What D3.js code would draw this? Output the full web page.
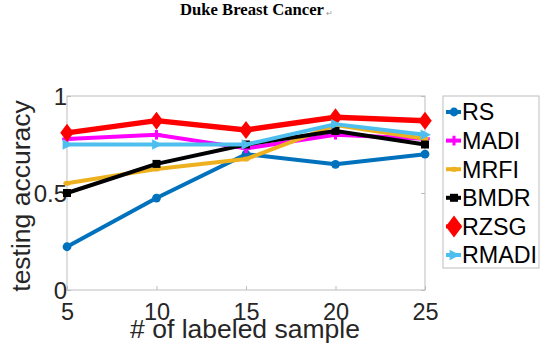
<!DOCTYPE html>
<html>
<head>
<meta charset="utf-8">
<script src="https://cdn.jsdelivr.net/npm/d3@7"></script>
<style>
  body { margin: 0; background: #fff; }
  svg { display: block; }
  text { font-family: "Liberation Sans", Arial, sans-serif; fill: #262626; }
</style>
</head>
<body>
<svg id="chart" width="545" height="353"></svg>
<script>
const samples = [5, 10, 15, 20, 25];
const yTicks = [0, 0.5, 1];

const seriesNames = ['RS', 'MADI', 'MRFI', 'BMDR', 'RZSG', 'RMADI'];
const rs    = [0.223, 0.474, 0.70, 0.648, 0.70];
const madi  = [0.778, 0.80, 0.73, 0.80, 0.78];
const mrfi  = [0.55, 0.624, 0.675, 0.85, 0.78];
const bmdr  = [0.50, 0.65, 0.75, 0.82, 0.75];
const rzsg  = [0.81, 0.873, 0.825, 0.89, 0.873];
const rmadi = [0.75, 0.75, 0.75, 0.855, 0.80];

const colors = ['#0072bd', '#ff00ff', '#edb120', '#000000', '#ff0000', '#4dbeee'];
const symbols = ['circle', 'plus', 'mrfi', 'square', 'diamond', 'triangle'];
const values = [rs, madi, mrfi, bmdr, rzsg, rmadi];

const svg = d3.select('#chart');
const mLeft = 67, mRight = 425, mTop = 96, mBottom = 290;

const x = d3.scaleLinear().domain([5, 25]).range([mLeft, mRight]);
const y = d3.scaleLinear().domain([0, 1]).range([mBottom, mTop]);

// title
svg.append('text')
  .attr('x', 180).attr('y', 15)
  .attr('textLength', 144).attr('lengthAdjust', 'spacingAndGlyphs')
  .style('font-family', '"Liberation Serif", serif')
  .style('font-weight', 'bold')
  .style('font-size', '17px')
  .style('fill', '#000')
  .text('Duke Breast Cancer');
svg.append('text')
  .attr('x', 326).attr('y', 16)
  .style('font-size', '8px')
  .style('fill', '#999')
  .text('\u21b5');

// axes box
svg.append('rect')
  .attr('x', mLeft).attr('y', mTop)
  .attr('width', mRight - mLeft).attr('height', mBottom - mTop)
  .attr('fill', 'none').attr('stroke', '#bdbdbd').attr('stroke-width', 1);

svg.append('g')
  .attr('transform', `translate(0,${mBottom})`)
  .call(d3.axisBottom(x).tickValues(samples).tickSize(-4).tickPadding(13).tickFormat(d3.format('d')))
  .call(g => g.select('.domain').remove())
  .call(g => g.selectAll('line').attr('stroke', '#bdbdbd'))
  .call(g => g.selectAll('text').style('font-size', '23.5px').style('fill', '#262626')
    .attr('font-family', null).attr('dy', '0.71em'));

svg.append('g')
  .attr('transform', `translate(${mLeft},0)`)
  .call(d3.axisLeft(y).tickValues(yTicks).tickSize(-4).tickPadding(0).tickFormat(d => d === 0.5 ? '0.5' : d3.format('d')(d)))
  .call(g => g.select('.domain').remove())
  .call(g => g.selectAll('line').attr('stroke', '#bdbdbd'))
  .call(g => g.selectAll('text').style('font-size', '24px').style('fill', '#262626')
    .attr('font-family', null).attr('dy', '0.35em'));

svg.append('g')
  .attr('transform', `translate(${mRight},0)`)
  .call(d3.axisRight(y).tickValues(yTicks).tickSize(-4).tickFormat(''))
  .call(g => g.select('.domain').remove())
  .call(g => g.selectAll('line').attr('stroke', '#bdbdbd'));

// axis labels
svg.append('text')
  .attr('x', 245).attr('y', 338)
  .attr('text-anchor', 'middle')
  .style('font-size', '26.5px')
  .text('# of labeled sample');
svg.append('text')
  .attr('transform', `translate(30,196) rotate(-90)`)
  .attr('text-anchor', 'middle')
  .style('font-size', '26.5px')
  .text('testing accuracy');

function marker(g, type, color, size) {
  if (type === 'circle') {
    g.append('circle').attr('r', size * 0.55).attr('fill', color);
  } else if (type === 'square') {
    g.append('rect').attr('x', -size * 0.5).attr('y', -size * 0.5)
      .attr('width', size).attr('height', size).attr('fill', color);
  } else if (type === 'diamond') {
    g.append('path').attr('d', `M0,${-size}L${size * 0.75},0L0,${size}L${-size * 0.75},0Z`).attr('fill', color);
  } else if (type === 'triangle') {
    g.append('path').attr('d', `M${size * 0.75},0L${-size * 0.55},${-size * 0.65}L${-size * 0.55},${size * 0.65}Z`).attr('fill', color);
  } else if (type === 'plus') {
    g.append('path').attr('d', `M${-size * 0.6},0H${size * 0.6}M0,${-size * 0.6}V${size * 0.6}`)
      .attr('stroke', color).attr('stroke-width', 3);
  } else {
    g.append('ellipse').attr('rx', size * 0.45).attr('ry', size * 0.32).attr('fill', color);
  }
}

const line = d3.line().x((d, i) => x(samples[i])).y(d => y(d));

values.forEach((vals, k) => {
  svg.append('path')
    .datum(vals)
    .attr('d', line)
    .attr('fill', 'none')
    .attr('stroke', colors[k])
    .attr('stroke-width', k === 4 ? 5.5 : 4)
    .attr('stroke-linejoin', 'round');
  vals.forEach((v, i) => {
    const g = svg.append('g').attr('transform', `translate(${x(samples[i])},${y(v)})`);
    marker(g, symbols[k], colors[k], k === 4 ? 9 : 8);
  });
});

// legend
const legend = svg.append('g');
legend.append('rect')
  .attr('x', 443).attr('y', 96).attr('width', 96).attr('height', 172)
  .attr('fill', '#fff').attr('stroke', '#bdbdbd');
seriesNames.forEach((name, k) => {
  const cy = 112 + k * 28.6;
  legend.append('line')
    .attr('x1', 446).attr('x2', 461).attr('y1', cy).attr('y2', cy)
    .attr('stroke', colors[k]).attr('stroke-width', 4);
  const g = legend.append('g').attr('transform', `translate(454,${cy})`);
  marker(g, symbols[k], colors[k], k === 4 ? 11 : 8);
  legend.append('text')
    .attr('x', 462).attr('y', cy).attr('dy', '0.36em')
    .style('font-size', '23.3px').style('fill', '#000')
    .text(name);
});
</script>
</body>
</html>
